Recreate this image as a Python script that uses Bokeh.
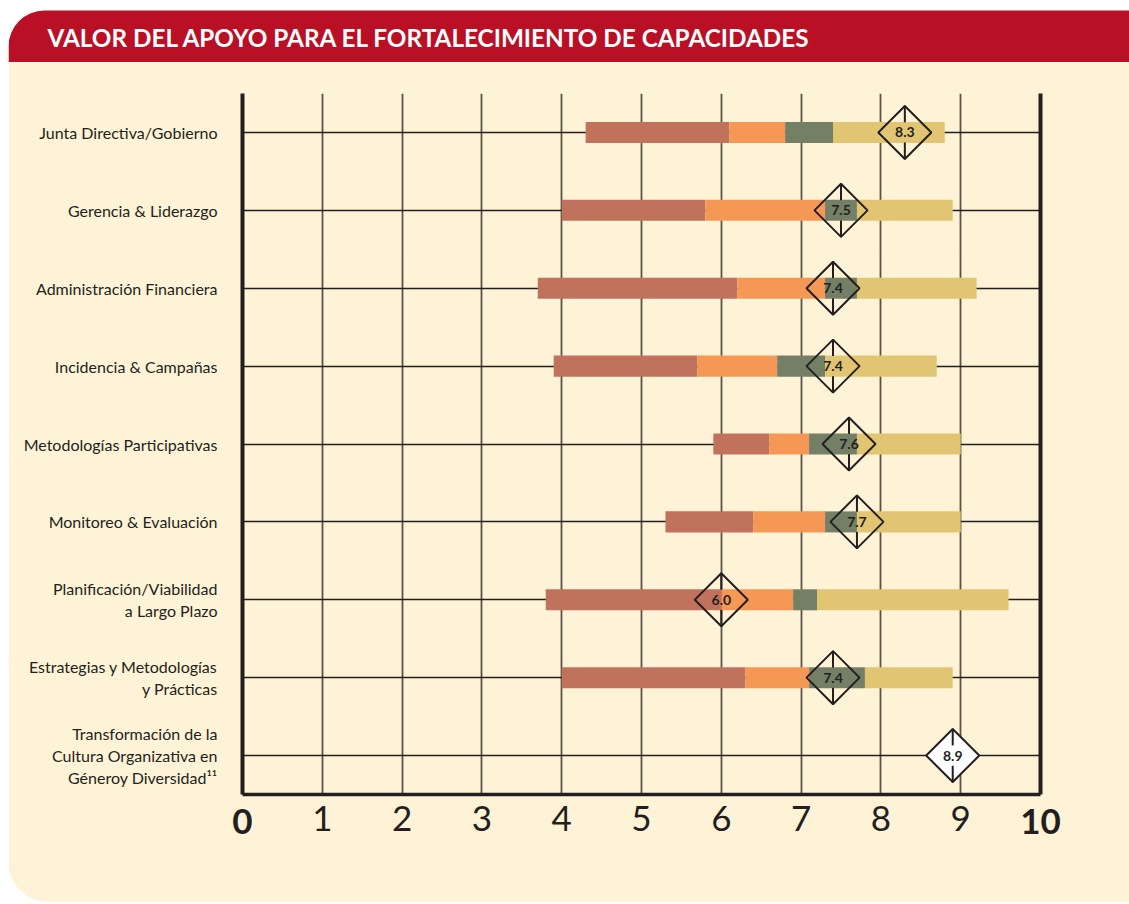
import math
import numpy as np
from bokeh.plotting import figure
from bokeh.models import Range1d, FixedTicker, LinearAxis, BoxAnnotation, Label, ColumnDataSource
from bokeh.core.properties import value
from bokeh.embed import file_html
from bokeh.resources import INLINE

# ---------------- data ----------------
titulo = "VALOR DEL APOYO PARA EL FORTALECIMIENTO DE CAPACIDADES"
categorias = [
    "Junta Directiva/Gobierno",
    "Gerencia & Liderazgo",
    "Administración Financiera",
    "Incidencia & Campañas",
    "Metodologías Participativas",
    "Monitoreo & Evaluación",
    "Planificación/Viabilidad\na Largo Plazo",
    "Estrategias y Metodologías\ny Prácticas",
    "Transformación de la\nCultura Organizativa en\nGéneroy Diversidad¹¹",
]
nan = float("nan")
inicio = [4.3, 4.0, 3.7, 3.9, 5.9, 5.3, 3.8, 4.0, nan]
corte1 = [6.1, 5.8, 6.2, 5.7, 6.6, 6.4, 6.0, 6.3, nan]
corte2 = [6.8, 7.3, 7.3, 6.7, 7.1, 7.3, 6.9, 7.1, nan]
corte3 = [7.4, 7.7, 7.7, 7.3, 7.7, 7.7, 7.2, 7.8, nan]
fin = [8.8, 8.9, 9.2, 8.7, 9.0, 9.0, 9.6, 8.9, nan]
promedio = [8.3, 7.5, 7.4, 7.4, 7.6, 7.7, 6.0, 7.4, 8.9]
etiquetas = ["8.3", "7.5", "7.4", "7.4", "7.6", "7.7", "6.0", "7.4", "8.9"]
x_ticks = [0, 1, 2, 3, 4, 5, 6, 7, 8, 9, 10]
x_ticks_bold = [0, 10]

# ---------------- styles ----------------
FONT = "Lato"
INK = "#231f20"
CREAM = "#fef3d6"
RED = "#ba1026"
C_RED = "#c0725c"
C_ORANGE = "#f69855"
C_GREEN = "#748066"
C_YELLOW = "#e2c572"

n = len(categorias)
ys = [n - i for i in range(n)]  # top row = 9

W = 1121
HB = 62
HM = 840

# ---------------- banner ----------------
b = figure(width=W, height=HB, x_range=Range1d(0, W), y_range=Range1d(0, HB),
           output_backend="svg", toolbar_location=None, min_border=0, margin=(0, 0, 0, 8),
           background_fill_color="white", border_fill_color="white", outline_line_color=None)
b.axis.visible = False
b.grid.visible = False
b.add_layout(BoxAnnotation(left=0, right=W, bottom=0, top=52,
                           fill_color=RED, fill_alpha=1, line_color=None,
                           border_radius=dict(top_left=36, top_right=0, bottom_right=0, bottom_left=0)))
b.add_layout(Label(x=39, y=25, text=titulo, text_color="white", text_font=FONT,
                   text_font_style="bold", text_font_size="24.3px",
                   text_baseline="middle", text_align="left"))

# ---------------- main ----------------
p = figure(width=W, height=HM, x_range=Range1d(0, 10), y_range=Range1d(0.5, n + 0.5),
           output_backend="svg", toolbar_location=None, margin=(0, 0, 0, 8),
           min_border_left=234, min_border_right=89, min_border_top=31, min_border_bottom=108,
           background_fill_color=CREAM, border_fill_color=CREAM, outline_line_color=None,
           styles={"border-bottom-left-radius": "40px", "overflow": "hidden"})

# grids
p.xgrid.ticker = FixedTicker(ticks=x_ticks)
p.xgrid.grid_line_color = "#5b534a"
p.xgrid.grid_line_width = 1.8
p.ygrid.ticker = FixedTicker(ticks=ys)
p.ygrid.grid_line_color = INK
p.ygrid.grid_line_width = 1.3

# x axis (regular labels 1..9)
STANDOFF = 5
p.xaxis.ticker = FixedTicker(ticks=x_ticks)
p.xaxis.major_label_overrides = {t: "" for t in x_ticks_bold}
p.xaxis.axis_line_width = 3.5
p.xaxis.axis_line_color = INK
p.xaxis.major_tick_line_color = None
p.xaxis.minor_tick_line_color = None
p.xaxis.major_label_text_font = FONT
p.xaxis.major_label_text_font_size = "35px"
p.xaxis.major_label_text_color = INK
p.xaxis.major_label_standoff = STANDOFF

# bold 0 / 10 labels: second axis pulled back up onto the same line
bold_axis = LinearAxis(ticker=FixedTicker(ticks=x_ticks_bold),
                       axis_line_color=None, major_tick_line_color=None, minor_tick_line_color=None,
                       major_label_text_font=FONT, major_label_text_font_size="35px",
                       major_label_text_font_style="bold", major_label_text_color=INK,
                       major_label_standoff=STANDOFF - 36)
p.add_layout(bold_axis, "below")

# y axis
p.yaxis.ticker = FixedTicker(ticks=ys)
p.yaxis.major_label_overrides = {y: c for y, c in zip(ys, categorias)}
p.yaxis.axis_line_width = 4
p.yaxis.axis_line_color = INK
p.yaxis.major_tick_line_color = None
p.yaxis.minor_tick_line_color = None
p.yaxis.major_label_text_font = FONT
p.yaxis.major_label_text_font_size = "16px"
p.yaxis.major_label_text_color = INK
p.yaxis.major_label_standoff = 19
p.yaxis.major_label_text_line_height = 1.15

right = LinearAxis(ticker=FixedTicker(ticks=[]), axis_line_width=4, axis_line_color=INK,
                   major_tick_line_color=None, minor_tick_line_color=None)
p.add_layout(right, "right")

# bars
src = ColumnDataSource(dict(y=ys, a=inicio, b=corte1, c=corte2, d=corte3, e=fin,
                            m=promedio, lab=etiquetas))
BH = 0.27
p.hbar(y="y", left="a", right="b", height=BH, source=src, fill_color=C_RED, line_color=None)
p.hbar(y="y", left="b", right="c", height=BH, source=src, fill_color=C_ORANGE, line_color=None)
p.hbar(y="y", left="c", right="d", height=BH, source=src, fill_color=C_GREEN, line_color=None)
p.hbar(y="y", left="d", right="e", height=BH, source=src, fill_color=C_YELLOW, line_color=None)

# diamonds
alphas = [0.0] * (n - 1) + [1.0]
p.scatter(x=promedio, y=ys, marker="square", angle=math.pi / 4, size=37.5,
          fill_color="white", fill_alpha=alphas, line_color=INK, line_width=2)
ys_arr = np.array(ys, dtype=float)
p.segment(x0=promedio, x1=promedio, y0=ys_arr + 0.345, y1=ys_arr + 0.13, line_color=INK, line_width=2)
p.segment(x0=promedio, x1=promedio, y0=ys_arr - 0.13, y1=ys_arr - 0.345, line_color=INK, line_width=2)
p.text(x="m", y="y", text="lab", source=src, text_align="center", text_baseline="middle",
       text_font=value(FONT), text_font_style="bold", text_font_size="14px", text_color=INK)

open("out.html", "w").write(file_html([b, p], INLINE))
